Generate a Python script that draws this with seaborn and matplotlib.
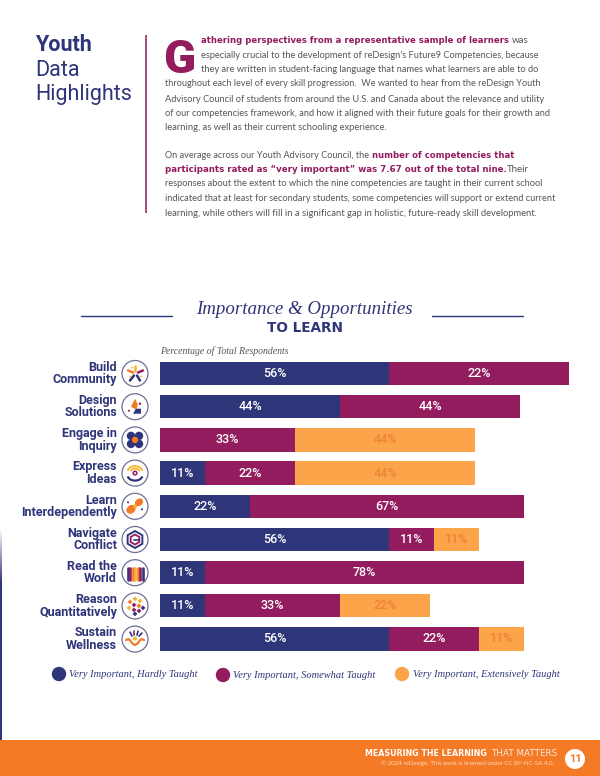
import matplotlib
matplotlib.use('Agg')
import matplotlib.pyplot as plt
import pandas as pd
import seaborn as sns
from matplotlib.patches import Arc, Circle, Ellipse, Polygon, Rectangle, RegularPolygon

# ------------------------------ data ------------------------------
competencies = ['Build\nCommunity', 'Design\nSolutions', 'Engage in\nInquiry', 'Express\nIdeas',
                'Learn\nInterdependently', 'Navigate\nConflict', 'Read the\nWorld',
                'Reason\nQuantitatively', 'Sustain\nWellness']
hardly = [56, 44, 0, 11, 22, 56, 11, 11, 56]
# the first bar is drawn longer than its printed label in the source, so both are kept
somewhat = [44, 44, 33, 22, 67, 11, 78, 33, 22]
somewhat_labels = [22, 44, 33, 22, 67, 11, 78, 33, 22]
extensively = [0, 0, 44, 44, 0, 11, 0, 22, 11]
levels = ['Very Important, Hardly Taught', 'Very Important, Somewhat Taught', 'Very Important, Extensively Taught']

NAVY = '#2f3579'
MAGENTA = '#931c5f'
ORANGE = '#fba44a'
FOOTER = '#f47a26'
YELLOW = '#f6b12d'
GREY = '#55555c'

W, H = 600, 776
sns.set_theme(style='white')
plt.rcParams['font.family'] = ['Lato', 'DejaVu Sans']

fig = plt.figure(figsize=(W / 100, H / 100), dpi=100)

# page axes in pixel coordinates, for everything around the chart
page = fig.add_axes([0, 0, 1, 1])
page.set_xlim(0, W)
page.set_ylim(H, 0)
page.axis('off')


def fit_text(x0, x1, y, text, color=GREY, family='Lato', **kwargs):
    # font size is picked so the string runs from x0 to x1 like in the page layout
    t = page.text(x0, y, text, color=color, family=family, fontsize=10, va='center', **kwargs)
    width = t.get_window_extent(fig.canvas.get_renderer()).width
    t.set_fontsize(10 * (x1 - x0) / width)
    return t


def bold_text(x0, x1, y, text):
    return fit_text(x0, x1, y, text, color=MAGENTA, family='DejaVu Sans', fontweight='bold')


# heading
page.text(35, 51, 'Youth', color=NAVY, fontsize=15.5, fontweight='bold', va='baseline', family='Roboto')
page.text(35, 75.5, 'Data', color=NAVY, fontsize=15.5, va='baseline', family='Roboto')
page.text(35, 100, 'Highlights', color=NAVY, fontsize=15.5, va='baseline', family='Roboto')
page.add_patch(Rectangle((144.5, 35), 2, 178, color='#a4507f', lw=0))

# intro text
page.text(163, 73, 'G', color=MAGENTA, fontsize=34, fontweight='black', va='baseline', family='Roboto')
bold_text(200.8, 508.5, 40.5, 'athering perspectives from a representative sample of learners')
page.text(512, 40.5, 'was', color=GREY, fontsize=7, va='center', family='Lato')
fit_text(200.8, 540, 55, 'especially crucial to the development of reDesign’s Future9 Competencies, because')
fit_text(200.8, 540, 69.5, 'they are written in student-facing language that names what learners are able to do')
fit_text(164.6, 541.5, 84, 'throughout each level of every skill progression.  We wanted to hear from the reDesign Youth')
fit_text(164.6, 546, 99, 'Advisory Council of students from around the U.S. and Canada about the relevance and utility')
fit_text(164.6, 551, 113.5, 'of our competencies framework, and how it aligned with their future goals for their growth and')
fit_text(164.6, 386, 128, 'learning, as well as their current schooling experience.')
fit_text(164.6, 369, 155, 'On average across our Youth Advisory Council, the')
bold_text(372, 514, 155, 'number of competencies that')
bold_text(164.6, 502.7, 169.5, 'participants rated as “very important” was 7.67 out of the total nine.')
page.text(506.5, 169.5, 'Their', color=GREY, fontsize=7, va='center', family='Lato')
fit_text(164.6, 544, 184, 'responses about the extent to which the nine competencies are taught in their current school')
fit_text(164.6, 560, 198.5, 'indicated that at least for secondary students, some competencies will support or extend current')
fit_text(164.6, 535, 213, 'learning, while others will fill in a significant gap in holistic, future-ready skill development.')

# chart title
fit_text(196, 413, 309, 'Importance & Opportunities', color=NAVY, family='Liberation Serif', style='italic')
page.text(305, 327.5, 'TO LEARN', color=NAVY, fontsize=9.8, fontweight='bold', ha='center', va='center', family='DejaVu Sans')
page.plot([81, 172], [316, 316], color=NAVY, lw=1)
page.plot([432, 523], [316, 316], color=NAVY, lw=1)
page.text(160, 351, 'Percentage of Total Respondents', color=GREY, fontsize=7, style='italic', va='center',
          family='Liberation Serif')

# stacked bars
df = pd.DataFrame({'competency': competencies * 3,
                   'level': [levels[0]] * 9 + [levels[1]] * 9 + [levels[2]] * 9,
                   'value': hardly + somewhat + extensively})

ax = fig.add_axes([160 / W, 1 - 655.5 / H, 409 / W, 298.5 / H])
ax.patch.set_alpha(0)
sns.histplot(data=df, y='competency', weights='value', hue='level', hue_order=levels[::-1], multiple='stack',
             discrete=True, shrink=0.7, palette=[ORANGE, MAGENTA, NAVY], alpha=1, linewidth=0, legend=False, ax=ax)
ax.set_xlim(0, 100)
ax.set_ylim(8.5, -0.5)
ax.set_xlabel('')
ax.set_ylabel('')
ax.set_xticks([])
ax.set_yticks([])
sns.despine(ax=ax, left=True, bottom=True)

# value labels and row names
for i, name in enumerate(competencies):
    left = 0
    for values, labels, color in [(hardly, hardly, 'white'), (somewhat, somewhat_labels, 'white'),
                                  (extensively, extensively, '#ee8236')]:
        if values[i] > 0:
            ax.text(left + values[i] / 2, i, '%d%%' % labels[i], color=color, fontsize=9, fontweight='medium',
                    ha='center', va='center', family='Roboto')
        left += values[i]
    y = 373.5 + i * 33.2
    page.text(117, y, name, color=NAVY, fontsize=9, fontweight='bold', ha='right', va='center', linespacing=0.95,
              family='Roboto')
    page.add_patch(Circle((135, y), 13, fc='white', ec='#6d6f96', lw=0.9))


# small competency badges, drawn roughly by hand
def dash(cx, cy, x0, y0, x1, y1, color, lw=1.8):
    page.plot([cx + x0, cx + x1], [cy + y0, cy + y1], color=color, lw=lw, solid_capstyle='round')


def blob(cx, cy, dx, dy, r, color):
    page.add_patch(Circle((cx + dx, cy + dy), r, fc=color, ec='none'))


def diamond(cx, cy, dx, dy, color):
    page.add_patch(RegularPolygon((cx + dx, cy + dy), 4, radius=2.4, fc=color, ec='none'))


ys = [373.5 + i * 33.2 for i in range(9)]
cx = 135

# build community
y = ys[0]
dash(cx, y, -7, -3, -2, -1, FOOTER)
dash(cx, y, 3, -1, 8, -3, MAGENTA)
dash(cx, y, 0, -8, 0, -3, YELLOW)
dash(cx, y, -5, 7, -1, 2, NAVY)
dash(cx, y, 5, 7, 2, 2, NAVY)
for dx, dy in [(-5, 3), (6, 3), (-3, -6)]:
    blob(cx, y, dx, dy, 0.9, YELLOW)

# design solutions
y = ys[1]
page.add_patch(Polygon([(cx - 4, y), (cx, y - 8), (cx + 3, y - 2), (cx + 1, y + 3)], fc=FOOTER, ec='none'))
page.add_patch(Polygon([(cx - 2, y + 7), (cx + 1, y + 2), (cx + 6, y + 2), (cx + 6, y + 7)], fc=NAVY, ec='none'))
blob(cx, y, 5, -3, 1.2, MAGENTA)
blob(cx, y, -6, 4, 1, MAGENTA)

# engage in inquiry
y = ys[2]
for dx, dy in [(-4, -4), (4, -4), (-4, 4), (4, 4)]:
    blob(cx, y, dx, dy, 4.2, NAVY)
blob(cx, y, 0, 0, 3.2, FOOTER)

# express ideas
y = ys[3]
page.add_patch(Arc((cx, y - 1), 15, 12, theta1=190, theta2=350, color=YELLOW, lw=1.3))
page.add_patch(Arc((cx, y - 1), 9, 7, theta1=190, theta2=350, color=YELLOW, lw=1.3))
page.add_patch(Circle((cx, y), 1.8, fc='white', ec=MAGENTA, lw=1.1))
page.add_patch(Arc((cx, y + 2), 15, 11, theta1=10, theta2=170, color=NAVY, lw=1.6))

# learn interdependently
y = ys[4]
page.add_patch(Ellipse((cx + 4, y - 4), 9, 7, angle=-40, fc=FOOTER, ec='none'))
page.add_patch(Ellipse((cx - 4, y + 3), 10, 8, angle=-40, fc=FOOTER, ec='none'))
blob(cx, y, 0, 0, 2, YELLOW)
blob(cx, y, -7, -4, 1, NAVY)
blob(cx, y, 7, 3, 1, NAVY)

# navigate conflict
y = ys[5]
page.add_patch(RegularPolygon((cx, y), 6, radius=8.5, fc='none', ec=NAVY, lw=1.4))
page.add_patch(RegularPolygon((cx, y), 6, radius=5, fc='none', ec=MAGENTA, lw=1.3))
dash(cx, y, -1, 0, 4, 0, NAVY, 1.2)

# read the world
y = ys[6]
for dx, color in zip([-7, -4.5, -2, 0.5, 3, 5.5, 8], [NAVY, MAGENTA, FOOTER, YELLOW, FOOTER, MAGENTA, NAVY]):
    dash(cx - 0.5, y, dx, -5, dx, 7, color, 1.9)

# reason quantitatively
y = ys[7]
for dx, dy, color in [(-5, -4, FOOTER), (0, -7, YELLOW), (5, -5, YELLOW), (-1, -1, MAGENTA), (4, 0, FOOTER),
                      (-6, 2, YELLOW), (-1, 4, MAGENTA), (4, 5, MAGENTA), (8, 2, NAVY), (0, 8, NAVY)]:
    diamond(cx, y, dx, dy, color)

# sustain wellness
y = ys[8]
for x0, y0, x1, y1, color in [(-5, -7, -3, -3, NAVY), (-1, -8, -1, -4, MAGENTA), (3, -8, 2, -4, NAVY), (7, -6, 4, -3, NAVY)]:
    dash(cx, y, x0, y0, x1, y1, color, 1.2)
blob(cx, y, 0, -0.5, 2, YELLOW)
page.plot([cx + d for d in [-9, -7, -5, -3, 0, 3, 5, 7, 9]], [y + d for d in [1, 0, 1, 4, 6, 4, 1, 0, 1]], color=FOOTER, lw=1.6)

# legend
for x, y, c, label, tx, ty in [(59, 674, NAVY, levels[0], 69, 674.5), (223, 675, MAGENTA, levels[1], 233, 675.5),
                               (402, 674, ORANGE, levels[2], 413, 674.5)]:
    page.add_patch(Circle((x, y), 7.2, fc=c, ec='none'))
    page.text(tx, ty, label, color=NAVY, fontsize=7.5, style='italic', va='center', family='Liberation Serif')

# footer
page.add_patch(Rectangle((0, 740), W, 36, color=FOOTER, lw=0))
for k in range(27):
    # navy strip on the left page edge fades in from white
    page.add_patch(Rectangle((0, 530 + k * 2), 2, 2, color=NAVY, alpha=(k + 1) / 27, lw=0))
page.add_patch(Rectangle((0, 584), 2, 156, color=NAVY, lw=0))
page.add_patch(Circle((575, 759), 10, fc='white', ec='none'))
page.text(575, 759, '11', color=FOOTER, fontsize=8, fontweight='bold', ha='center', va='center', family='Roboto')
fit_text(365, 487, 753, 'MEASURING THE LEARNING', color='white', family='DejaVu Sans', fontweight='bold')
fit_text(491, 557, 753, 'THAT MATTERS', color='#fde8d6', family='DejaVu Sans')
fit_text(381, 555, 763.5, '© 2024 reDesign. This work is licensed under CC BY-NC-SA 4.0.', color='#fdd9bd')

fig.savefig('out.png', dpi=100)
